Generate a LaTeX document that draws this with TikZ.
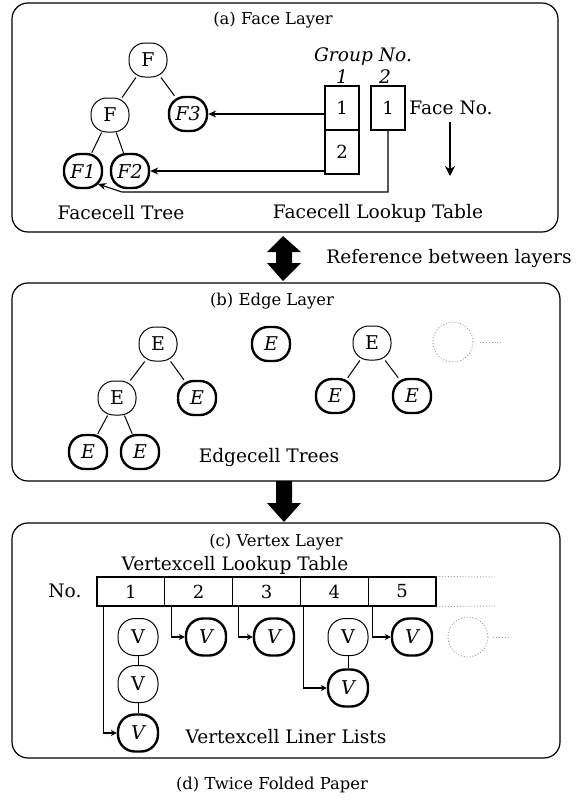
\documentclass[tikz,border=0pt]{standalone}
\usepackage{fontspec}
\setmainfont{DejaVu Serif}
\usetikzlibrary{arrows.meta}
\begin{document}
\begin{tikzpicture}[x=1pt,y=-1pt,
  layerbox/.style={draw, line width=1.2pt, rounded corners=16pt},
  cell/.style={draw, line width=1pt, rounded corners=16pt, minimum width=38pt, minimum height=34pt, inner sep=0pt, font=\fontsize{19}{22}\selectfont},
  leaf/.style={cell, line width=2.4pt, font=\fontsize{19}{22}\selectfont\itshape},
  vsize/.style={minimum width=40pt, minimum height=37pt, rounded corners=17pt},
  big/.style={font=\fontsize{18.6}{22}\selectfont},
  ttl/.style={font=\fontsize{16.4}{19}\selectfont},
  tab/.style={draw, line width=1.1pt, inner sep=0pt, font=\fontsize{18}{21}\selectfont},
  link/.style={line width=1pt},
  ptr/.style={line width=1.1pt, -{Stealth[length=8pt,width=7pt]}},
  vptr/.style={line width=1.1pt, -{Stealth[length=6pt,width=6pt]}},
  ghost/.style={draw=gray!80, dotted, line width=0.9pt, circle, minimum size=40pt, inner sep=0pt},
  fat/.style={fill=black, draw=none}
]
\useasboundingbox (0,0) rectangle (582,812);

% ---------------- (a) Face layer ----------------
\draw[layerbox] (12,3) rectangle (558,232);
\node[ttl] (ta) at (273,20) {(a) Face Layer};
\node[cell] (f0) at (148,60) {F};
\node[cell] (f1) at (110,115) {F};
\node[leaf] (f3) at (188,114) {F3};
\node[leaf] (fa) at (83,171) {F1};
\node[leaf] (fb) at (130,171) {F2};
\draw[link] (f0) -- (f1);
\draw[link] (f0) -- (f3);
\draw[link] (f1) -- (fa);
\draw[link] (f1) -- (fb);
\node[big] (ftree) at (121,213) {Facecell Tree};

\node[tab, minimum width=34pt, minimum height=44pt] (g11) at (342,108) {1};
\node[tab, minimum width=34pt, minimum height=44pt] (g12) at (342,152) {2};
\node[tab, minimum width=34pt, minimum height=44pt] (g21) at (388,108) {1};
\node[big] (gno) at (363,57) {\itshape Group No.};
\node[big] (gi1) at (342,77) {\itshape 1};
\node[big] (gi2) at (385,77) {\itshape 2};
\node[big] (fno) at (451,108) {Face No.};
\coordinate (dn0) at (450,122);
\coordinate (dn1) at (450,176);
\draw[line width=1.1pt, -{Stealth[length=10pt,width=10pt]}] (dn0) -- (dn1);
\draw[ptr] (g11.west |- f3) -- (f3.east);
\draw[ptr] (g12.west |- fb) -- (fb.east);
\coordinate (k1) at (388,192);
\coordinate (k2) at (122,192);
\coordinate (k3) at (98,184);
\draw[line width=1.1pt, -{Stealth[length=8pt,width=7pt]}] (g21.south) -- (k1) -- (k2) -- (k3);
\node[big] (flt) at (378,213) {Facecell Lookup Table};

% ---------------- fat double arrow ----------------
\fill[fat] (283,236) -- (301,252) -- (292,252) -- (292,263) -- (301,263) -- (283,281)
  -- (267,263) -- (276,263) -- (276,252) -- (267,252) -- cycle;
\node[big] (refl) at (449,258) {Reference between layers};

% ---------------- (b) Edge layer ----------------
\draw[layerbox] (12,283) rectangle (560,481);
\node[ttl] (tb) at (272,301) {(b) Edge Layer};
\node[cell] (e0) at (158,344) {E};
\node[cell] (e1) at (117,398) {E};
\node[leaf] (e2) at (197,398) {E};
\node[leaf] (e3) at (88,452) {E};
\node[leaf] (e4) at (140,452) {E};
\node[leaf] (e5) at (271,344) {E};
\node[cell] (e6) at (372,343) {E};
\node[leaf] (e7) at (335,396) {E};
\node[leaf] (e8) at (412,396) {E};
\draw[link] (e0) -- (e1);
\draw[link] (e0) -- (e2);
\draw[link] (e1) -- (e3);
\draw[link] (e1) -- (e4);
\draw[link] (e6) -- (e7);
\draw[link] (e6) -- (e8);
\node[ghost] (gh1) at (453,342) {};
\coordinate (gx1) at (480,342);
\coordinate (gx2) at (503,342);
\draw[gray!80, dotted, line width=0.9pt] (gx1) -- (gx2);
\node[big] (etr) at (269,457) {Edgecell Trees};

% ---------------- fat down arrow ----------------
\fill[fat] (276,481) -- (292,481) -- (292,503) -- (301,503) -- (284,522) -- (267,503) -- (276,503) -- cycle;

% ---------------- (c) Vertex layer ----------------
\draw[layerbox] (12,523) rectangle (560,758);
\node[ttl] (tc) at (276,542) {(c) Vertex Layer};
\node[big] (vlt) at (235,565) {Vertexcell Lookup Table};
\node[big] (vno) at (65,591) {No.};
\node[tab, minimum width=67.8pt, minimum height=29pt] (c1) at (130.9,591.5) {1};
\node[tab, minimum width=67.8pt, minimum height=29pt] (c2) at (198.7,591.5) {2};
\node[tab, minimum width=67.8pt, minimum height=29pt] (c3) at (266.5,591.5) {3};
\node[tab, minimum width=67.8pt, minimum height=29pt] (c4) at (334.3,591.5) {4};
\node[tab, minimum width=67.8pt, minimum height=29pt] (c5) at (402.1,591.5) {5};
\coordinate (tx1) at (497,577);
\coordinate (tx2) at (497,606);
\draw[gray!80, dotted, line width=0.9pt] (c5.north east) -- (tx1);
\draw[gray!80, dotted, line width=0.9pt] (c5.south east) -- (tx2);

\node[cell, vsize] (v1) at (138,637) {V};
\node[cell, vsize] (v2) at (138,684) {V};
\node[leaf, vsize] (v3) at (138,733) {V};
\node[leaf, vsize] (v4) at (206,637) {V};
\node[leaf, vsize] (v5) at (274,637) {V};
\node[cell, vsize] (v6) at (348,637) {V};
\node[leaf, vsize] (v7) at (348,688) {V};
\node[leaf, vsize] (v8) at (412,637) {V};
\draw[link] (v1) -- (v2);
\draw[link] (v2) -- (v3);
\draw[link] (v6) -- (v7);
\draw[vptr] ([xshift=7pt]c1.south west) |- (v3.west);
\draw[vptr] ([xshift=7pt]c2.south west) |- (v4.west);
\draw[vptr] ([xshift=6pt]c3.south west) |- (v5.west);
\draw[vptr] ([xshift=4pt]c4.south west) |- (v7.west);
\draw[vptr] ([xshift=5pt]c5.south west) |- (v8.west);
\node[ghost] (gh2) at (468,637) {};
\coordinate (gy1) at (493,637);
\coordinate (gy2) at (510,637);
\draw[gray!80, dotted, line width=0.9pt] (gy1) -- (gy2);
\node[big] (vll) at (286,737) {Vertexcell Liner Lists};

\node[ttl] (td) at (272,785) {(d) Twice Folded Paper};
\end{tikzpicture}
\end{document}
